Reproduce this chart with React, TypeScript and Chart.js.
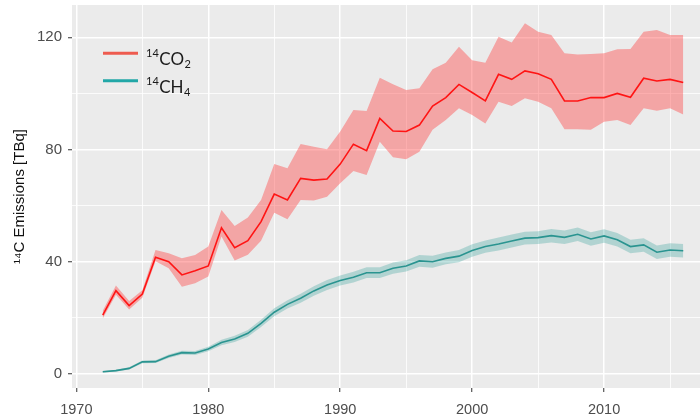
import React, { useEffect, useRef } from "react";
import { Chart, registerables } from "chart.js";

Chart.register(...registerables);

const years = [
  1972, 1973, 1974, 1975, 1976, 1977, 1978, 1979, 1980, 1981, 1982, 1983, 1984, 1985, 1986,
  1987, 1988, 1989, 1990, 1991, 1992, 1993, 1994, 1995, 1996, 1997, 1998, 1999, 2000, 2001,
  2002, 2003, 2004, 2005, 2006, 2007, 2008, 2009, 2010, 2011, 2012, 2013, 2014, 2015, 2016,
];

const co2Mid = [
  21.0, 29.7, 24.4, 28.5, 41.6, 40.0, 35.3, 36.8, 38.5, 52.1, 45.0, 47.5, 54.3, 64.1, 62.0,
  69.7, 69.1, 69.5, 74.8, 81.9, 79.6, 91.1, 86.6, 86.4, 88.7, 95.5, 98.5, 103.2, 100.3, 97.3,
  106.8, 105.0, 108.0, 107.0, 105.0, 97.3, 97.3, 98.5, 98.5, 100.0, 98.6, 105.4, 104.4, 105.0, 103.9,
];
const co2Upper = [
  22.5, 31.5, 26.0, 29.8, 44.2, 43.0, 41.2, 42.4, 45.4, 58.4, 52.7, 55.8, 62.0, 74.8, 73.3,
  82.0, 81.0, 80.1, 86.4, 94.1, 93.7, 105.6, 103.3, 101.2, 101.8, 108.6, 110.9, 116.6, 111.8, 110.9,
  120.2, 118.1, 125.0, 122.0, 120.8, 114.3, 113.9, 114.0, 114.3, 115.7, 115.8, 122.0, 122.6, 120.8, 120.8,
];
const co2Lower = [
  19.8, 28.2, 23.0, 27.2, 40.2, 37.7, 31.1, 32.3, 34.7, 49.0, 40.4, 42.5, 47.5, 57.5, 55.1,
  62.0, 61.8, 63.2, 68.0, 72.3, 70.9, 82.8, 77.2, 76.5, 79.2, 87.0, 90.5, 94.7, 92.3, 89.3,
  97.0, 95.5, 98.3, 97.0, 94.7, 87.2, 87.2, 87.0, 89.9, 90.5, 88.7, 94.7, 93.8, 94.7, 92.5,
];

const ch4Mid = [
  0.8, 1.2, 2.0, 4.3, 4.4, 6.3, 7.6, 7.5, 8.9, 11.2, 12.5, 14.5, 18.0, 22.0, 24.8,
  27.0, 29.6, 31.7, 33.3, 34.5, 36.1, 36.1, 37.7, 38.5, 40.3, 40.0, 41.2, 42.0, 44.0, 45.4,
  46.3, 47.4, 48.4, 48.6, 49.3, 48.7, 49.8, 48.1, 49.2, 47.8, 45.4, 46.0, 43.4, 44.2, 43.9,
];
const ch4Upper = [
  1.1, 1.5, 2.4, 4.8, 4.9, 6.9, 8.3, 8.2, 9.7, 12.2, 13.6, 15.7, 19.3, 23.4, 26.3,
  28.6, 31.3, 33.5, 35.1, 36.4, 38.0, 38.0, 39.7, 40.5, 42.4, 42.1, 43.3, 44.2, 46.2, 47.6,
  48.6, 49.7, 50.7, 50.9, 51.7, 51.1, 52.2, 50.5, 51.6, 50.2, 47.8, 48.4, 45.8, 46.6, 46.3,
];
const ch4Lower = [
  0.5, 0.9, 1.6, 3.8, 3.9, 5.7, 6.9, 6.8, 8.1, 10.2, 11.4, 13.3, 16.7, 20.6, 23.3,
  25.4, 27.9, 29.9, 31.5, 32.6, 34.2, 34.2, 35.7, 36.5, 38.2, 37.9, 39.1, 39.8, 41.8, 43.2,
  44.0, 45.1, 46.1, 46.3, 46.9, 46.3, 47.4, 45.7, 46.8, 45.4, 43.0, 43.6, 41.0, 41.8, 41.5,
];

const xTickLabels = [1970, 1980, 1990, 2000, 2010];
const yTickLabels = [0, 40, 80, 120];
const yAxisTitle = "¹⁴C Emissions [TBq]";
const legendItems = [
  { sup: "14", main: "CO", sub: "2", color: "#EE5B4F" },
  { sup: "14", main: "CH", sub: "4", color: "#22A7A7" },
];

const toPoints = (vals: number[]) => years.map((yr, i) => ({ x: yr, y: vals[i] }));

const bgPlugin = {
  id: "panelBg",
  beforeDraw(chart: any) {
    const { ctx, chartArea } = chart;
    ctx.save();
    ctx.fillStyle = "#EBEBEB";
    ctx.fillRect(chartArea.left, chartArea.top, chartArea.right - chartArea.left, chartArea.bottom - chartArea.top);
    ctx.restore();
  },
};

const legendPlugin = {
  id: "insetLegend",
  afterDraw(chart: any) {
    const { ctx } = chart;
    ctx.save();
    legendItems.forEach((item, i) => {
      const lineY = 53.3 + i * 27.4;
      ctx.strokeStyle = item.color;
      ctx.lineWidth = 3;
      ctx.beginPath();
      ctx.moveTo(103, lineY);
      ctx.lineTo(138, lineY);
      ctx.stroke();

      const base = 65 + i * 28;
      let x = 146;
      ctx.fillStyle = "#1A1A1A";
      ctx.textBaseline = "alphabetic";
      ctx.textAlign = "left";
      ctx.font = "11px Lato, 'Open Sans', sans-serif";
      ctx.fillText(item.sup, x, base - 8);
      x += ctx.measureText(item.sup).width + 0.5;
      ctx.font = "17px Lato, 'Open Sans', sans-serif";
      ctx.fillText(item.main, x, base);
      x += ctx.measureText(item.main).width + 0.5;
      ctx.font = "11px Lato, 'Open Sans', sans-serif";
      ctx.fillText(item.sub, x, base + 3);
    });
    ctx.restore();
  },
};

const isMajor = (v: number, list: number[]) => list.includes(v);

export default function App() {
  const canvasRef = useRef<HTMLCanvasElement | null>(null);

  useEffect(() => {
    document.body.style.margin = "0";
    const canvas = canvasRef.current;
    if (!canvas) return;

    const chart = new Chart(canvas, {
      type: "line",
      data: {
        datasets: [
          {
            label: "14CO2",
            data: toPoints(co2Mid),
            borderColor: "#FF1414",
            borderWidth: 1.6,
            pointRadius: 0,
            fill: false,
            order: 0,
          },
          {
            label: "14CH4",
            data: toPoints(ch4Mid),
            borderColor: "#2A9490",
            borderWidth: 1.6,
            pointRadius: 0,
            fill: false,
            order: 0,
          },
          {
            label: "co2 upper",
            data: toPoints(co2Upper),
            borderWidth: 0,
            borderColor: "rgba(0,0,0,0)",
            backgroundColor: "rgba(255,60,60,0.4)",
            pointRadius: 0,
            fill: 3,
            order: 1,
          },
          {
            label: "co2 lower",
            data: toPoints(co2Lower),
            borderWidth: 0,
            borderColor: "rgba(0,0,0,0)",
            pointRadius: 0,
            fill: false,
            order: 1,
          },
          {
            label: "ch4 upper",
            data: toPoints(ch4Upper),
            borderWidth: 0,
            borderColor: "rgba(0,0,0,0)",
            backgroundColor: "rgba(30,150,145,0.28)",
            pointRadius: 0,
            fill: 5,
            order: 1,
          },
          {
            label: "ch4 lower",
            data: toPoints(ch4Lower),
            borderWidth: 0,
            borderColor: "rgba(0,0,0,0)",
            pointRadius: 0,
            fill: false,
            order: 1,
          },
        ],
      },
      options: {
        responsive: false,
        animation: false,
        layout: { padding: { top: 5, right: 0, left: 0, bottom: 0 } },
        plugins: {
          legend: { display: false },
          tooltip: { enabled: false },
        },
        elements: { line: { tension: 0 } },
        scales: {
          x: {
            type: "linear",
            min: 1969.67,
            max: 2017.27,
            afterFit: (scale: any) => {
              scale.height = 30;
              scale.paddingLeft = 0;
              scale.paddingRight = 0;
            },
            border: { display: false },
            grid: {
              color: "#FFFFFF",
              lineWidth: (ctx: any) => (ctx.tick && isMajor(ctx.tick.value, xTickLabels) ? 1.5 : 0.8),
              tickColor: (ctx: any) =>
                ctx.tick && isMajor(ctx.tick.value, xTickLabels) ? "#333333" : "rgba(0,0,0,0)",
              tickWidth: 1,
              tickLength: 4,
            },
            ticks: {
              stepSize: 5,
              includeBounds: false,
              maxTicksLimit: 40,
              autoSkip: false,
              maxRotation: 0,
              padding: 9,
              color: "#4D4D4D",
              font: { family: "'Liberation Sans', Arial, sans-serif", size: 14.5 },
              callback: (v: any) => (isMajor(Number(v), xTickLabels) ? String(v) : ""),
            },
          },
          y: {
            type: "linear",
            min: -5,
            max: 131.5,
            afterFit: (scale: any) => {
              scale.width = 72;
              scale.paddingTop = 0;
              scale.paddingBottom = 0;
            },
            border: { display: false },
            grid: {
              color: "#FFFFFF",
              lineWidth: (ctx: any) => (ctx.tick && isMajor(ctx.tick.value, yTickLabels) ? 1.5 : 0.8),
              tickColor: (ctx: any) =>
                ctx.tick && isMajor(ctx.tick.value, yTickLabels) ? "#333333" : "rgba(0,0,0,0)",
              tickWidth: 1,
              tickLength: 4,
            },
            ticks: {
              stepSize: 20,
              includeBounds: false,
              maxTicksLimit: 40,
              autoSkip: false,
              padding: 6,
              color: "#4D4D4D",
              font: { family: "'Liberation Sans', Arial, sans-serif", size: 15 },
              callback: (v: any) => (isMajor(Number(v), yTickLabels) ? String(v) : ""),
            },
            title: {
              display: true,
              text: yAxisTitle,
              color: "#111111",
              font: { family: "'Liberation Sans', Arial, sans-serif", size: 15 },
              padding: { top: 11, bottom: 0 },
            },
          },
        },
      },
      plugins: [bgPlugin, legendPlugin],
    } as any);

    return () => {
      chart.destroy();
    };
  }, []);

  return (
    <div style={{ width: 700, height: 418, position: "relative" }}>
      <canvas ref={canvasRef} width={700} height={418} style={{ display: "block" }} />
    </div>
  );
}
